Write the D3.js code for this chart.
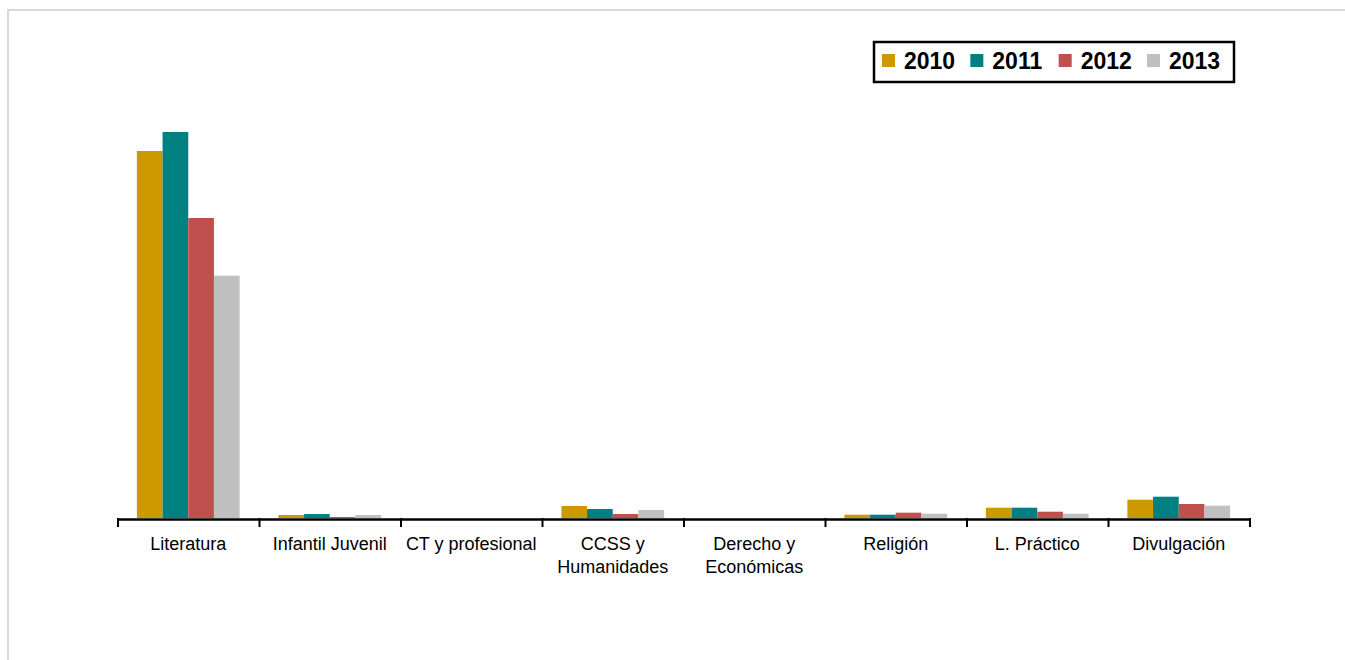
<!DOCTYPE html>
<html>
<head>
<meta charset="utf-8">
<script src="https://cdn.jsdelivr.net/npm/d3@7"></script>
<style>
  html, body { margin: 0; padding: 0; background: #fff; }
  svg { display: block; font-family: "Liberation Sans", Arial, sans-serif; }
</style>
</head>
<body>
<svg id="chart" width="1345" height="660"></svg>
<script>
// Categories and yearly series (bar heights, same units for every series)
const categories = ["Literatura", "Infantil Juvenil", "CT y profesional", "CCSS y Humanidades",
                    "Derecho y Económicas", "Religión", "L. Práctico", "Divulgación"];
const years = ["2010", "2011", "2012", "2013"];
const v2010 = [367, 3, 0, 12, 0, 3.3, 10.3, 18.3];
const v2011 = [386, 4, 0, 9, 0, 3.3, 10.3, 21.3];
const v2012 = [300, 1, 0, 4, 0, 5.3, 6.3, 14];
const v2013 = [242.3, 3, 0, 8, 0, 4.3, 4.3, 12.3];
const seriesValues = [v2010, v2011, v2012, v2013];
const colors = ["#CC9900", "#008080", "#C0504D", "#C0C0C0"];

const svg = d3.select("#chart");

// light frame around the chart area
svg.append("rect")
  .attr("x", 8).attr("y", 10).attr("width", 1400).attr("height", 700)
  .attr("fill", "none").attr("stroke", "#d9d9d9").attr("stroke-width", 2);

const x0 = d3.scaleBand().domain(categories).range([117.5, 1249.5]).paddingInner(0).paddingOuter(0);
const bw = x0.bandwidth();
const x1 = d3.scaleBand().domain(years).range([bw * 0.137, bw * 0.863]).padding(0);
const y = d3.scaleLinear().domain([0, 400]).range([518, 118]);

// bars
const groups = svg.append("g").selectAll("g")
  .data(categories)
  .join("g")
  .attr("transform", d => `translate(${x0(d)},0)`);

groups.selectAll("rect")
  .data((d, i) => years.map((yr, k) => ({ yr, v: seriesValues[k][i], c: colors[k] })))
  .join("rect")
  .attr("x", d => x1(d.yr))
  .attr("width", x1.bandwidth())
  .attr("y", d => y(d.v))
  .attr("height", d => y(0) - y(d.v))
  .attr("fill", d => d.c);

// category axis: ticks on the band boundaries
const edge = d3.scaleLinear().domain([0, categories.length]).range(x0.range());
const axis = svg.append("g")
  .attr("transform", "translate(0,519)")
  .call(d3.axisBottom(edge).tickValues(d3.range(categories.length + 1))
    .tickFormat("").tickSizeInner(8).tickSizeOuter(0));
axis.select(".domain").attr("stroke", "#000").attr("stroke-width", 2.5);
axis.selectAll(".tick line").attr("stroke", "#000").attr("stroke-width", 2).attr("y1", -1);

// category labels, wrapped to the band width
const labelFont = 18;
const labels = svg.append("g").selectAll("text")
  .data(categories)
  .join("text")
  .attr("x", d => x0(d) + bw / 2)
  .attr("y", 550)
  .attr("text-anchor", "middle")
  .attr("font-size", labelFont)
  .attr("fill", "#000");

labels.each(function(d) {
  const t = d3.select(this);
  const words = d.split(" ");
  const lines = [];
  let line = [];
  const probe = t.append("tspan");
  words.forEach(w => {
    const test = line.concat(w).join(" ");
    probe.text(test);
    if (probe.node().getComputedTextLength() > bw - 4 && line.length) {
      lines.push(line.join(" "));
      line = [w];
    } else {
      line.push(w);
    }
  });
  lines.push(line.join(" "));
  probe.remove();
  lines.forEach((ln, i) => {
    t.append("tspan").attr("x", x0(d) + bw / 2).attr("dy", i === 0 ? 0 : 23).text(ln);
  });
});

// legend
const legend = svg.append("g");
legend.append("rect")
  .attr("x", 874).attr("y", 42).attr("width", 360).attr("height", 40)
  .attr("fill", "#fff").attr("stroke", "#000").attr("stroke-width", 2.5);
const lx = d3.scalePoint().domain(years).range([882, 1147]);
const items = legend.selectAll("g.item").data(years).join("g").attr("class", "item")
  .attr("transform", d => `translate(${lx(d)},0)`);
items.append("rect").attr("x", 0).attr("y", 54).attr("width", 13).attr("height", 13)
  .attr("fill", (d, i) => colors[i]);
items.append("text").attr("x", 22).attr("y", 69)
  .attr("font-size", 23).attr("font-weight", "bold").attr("fill", "#000")
  .text(d => d);
</script>
</body>
</html>
